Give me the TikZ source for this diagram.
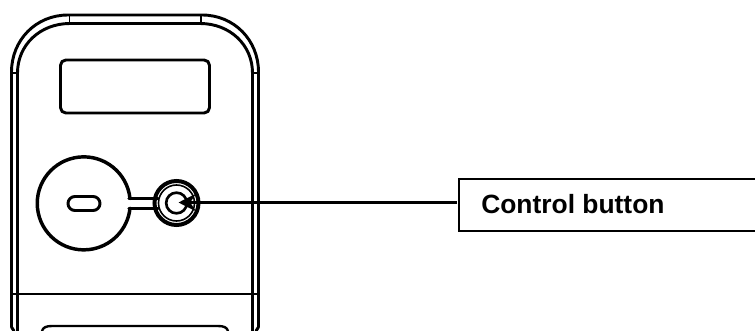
\documentclass[tikz,border=0pt]{standalone}
\usepackage{fontspec}
\setmainfont{Liberation Sans}
\usetikzlibrary{arrows.meta}
\tikzset{
  body/.style={line width=2.2pt,line join=round,line cap=round},
  thinl/.style={line width=1.4pt},
  boxline/.style={line width=1.5pt},
  labeltext/.style={font=\fontsize{19.8pt}{22pt}\selectfont\bfseries,anchor=base west,inner sep=0pt},
  leader/.style={line width=1.6pt,-{Stealth[length=13pt,width=13pt]}}
}
\begin{document}
\begin{tikzpicture}[x=0.75pt,y=-0.75pt]
\useasboundingbox (0,0) rectangle (755,331);
% casing
\draw[body] (11.5,327) -- (11.5,72) .. controls (11.5,40) and (36,15) .. (68,15) -- (202,15) .. controls (234,15) and (258.5,40) .. (258.5,72) -- (258.5,327);
\draw[body] (17.5,331) -- (17.5,73) .. controls (17.5,45) and (40,23.5) .. (70,23.5) -- (200,23.5) .. controls (230,23.5) and (252.5,45) .. (252.5,73) -- (252.5,331);
\draw[body] (11.5,327) -- (14,331);
\draw[body] (258.5,327) -- (256,331);
\draw[thinl] (69.5,15) -- (69.5,23.5) (201,15) -- (201,23.5);
\draw[thinl] (11.5,73) -- (17.5,73) (252.5,73) -- (258.5,73);
\draw[thinl] (11,294) -- (259,294);
% display
\draw[body,rounded corners=4pt] (60.5,60) rectangle (209.5,113);
% dial
\draw[body,line width=2.6pt] (130,198.5) arc[start angle=-6,end angle=-354,radius=46.5] ;
\draw[body,rounded corners=5.2pt] (68,196.5) rectangle (100,210.5);
\draw[body,line width=2.6pt] (129,198.5) -- (158,198.5) (129,208.5) -- (158,208.5);
% button
\node[circle,draw,line width=3pt,minimum size=33pt,inner sep=0pt] (btnouter) at (176.5,203) {};
\node[circle,draw,line width=1.2pt,minimum size=27pt,inner sep=0pt] (btnmid) at (176.5,203) {};
\node[circle,draw,line width=2pt,minimum size=15.5pt,inner sep=0pt] (btninner) at (176.5,203) {};
\coordinate (btntip) at (178.5,202.5);
% label
\node[labeltext] (lbl) at (481,213.5) {Control button};
\coordinate (boxtl) at (459,179.5);
\coordinate (boxbl) at (459,230.5);
\coordinate (boxtr) at (755,179.5);
\coordinate (boxbr) at (755,230.5);
\coordinate (boxin) at (457,202.5);
\draw[boxline] (boxtr) -- (boxtl) -- (boxbl) -- (boxbr);
\draw[leader] (boxin) -- (btntip);
% lower panel
\draw[body,line width=1.8pt] (42,331) .. controls (43,327.5) and (46,326) .. (52,326) -- (218,326) .. controls (224,326) and (227,327.5) .. (228,331);
\end{tikzpicture}
\end{document}
